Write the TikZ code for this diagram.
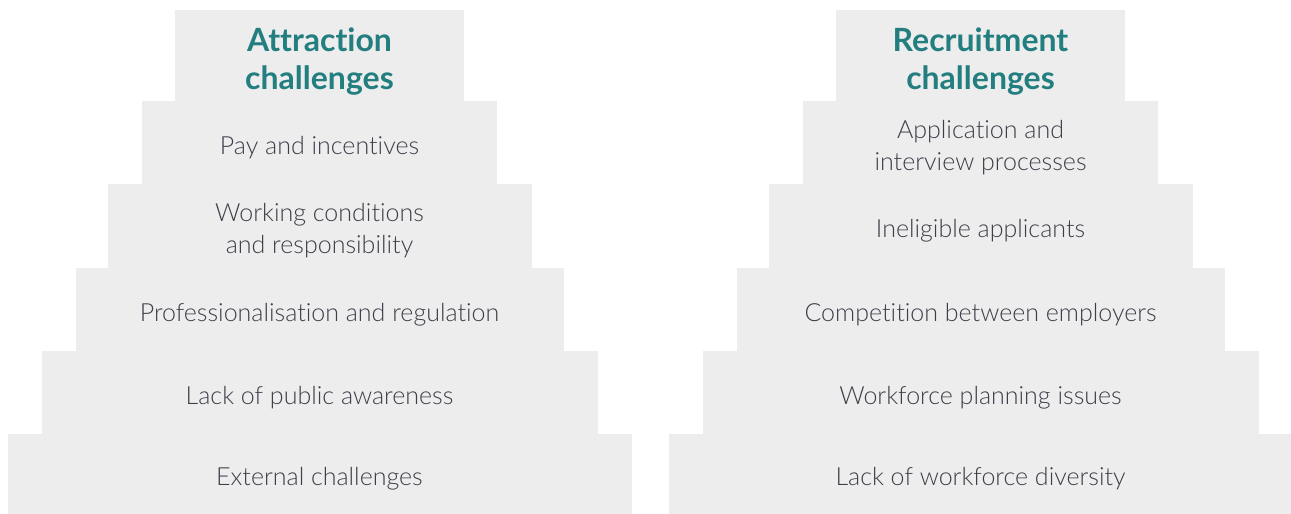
\documentclass[tikz,border=0pt]{standalone}
\usepackage{fontspec}
\setmainfont{Lato}[Ligatures=NoCommon]
\newfontfamily\thinfont{Lato Light}[Ligatures=NoCommon]
\definecolor{stepfill}{HTML}{EDEDED}
\definecolor{headteal}{HTML}{237E80}
\definecolor{bodyink}{HTML}{3E3E4A}
\begin{document}
\begin{tikzpicture}[x=1pt,y=-1pt,
  tier/.style={fill=stepfill, draw=none, inner sep=0pt, outer sep=0pt},
  tiertext/.style={inner sep=0pt, align=center, text=bodyink,
    font=\thinfont\fontsize{25}{32}\selectfont, yshift=-5pt},
  headtext/.style={inner sep=0pt, align=center, text=headteal,
    font=\bfseries\fontsize{32}{38}\selectfont, yshift=-6pt}]
\useasboundingbox (0,0) rectangle (1291,514);
% left pyramid: attraction
\node[tier, minimum width=289, minimum height=91] (l0) at (319.5,55.5) {};
\node[tier, minimum width=355, minimum height=83] (l1) at (319.5,142.5) {};
\node[tier, minimum width=424, minimum height=84] (l2) at (319.5,226) {};
\node[tier, minimum width=488, minimum height=83] (l3) at (319.5,309.5) {};
\node[tier, minimum width=556, minimum height=83] (l4) at (319.5,392.5) {};
\node[tier, minimum width=624, minimum height=80] (l5) at (319.5,474) {};
\node[headtext] (l0t) at (l0.center) {Attraction\\challenges};
\node[tiertext] (l1t) at (l1.center) {Pay and incentives};
\node[tiertext] (l2t) at (l2.center) {Working conditions\\and responsibility};
\node[tiertext] (l3t) at (l3.center) {Professionalisation and regulation};
\node[tiertext] (l4t) at (l4.center) {Lack of public awareness};
\node[tiertext] (l5t) at (l5.center) {External challenges};
% right pyramid: recruitment
\node[tier, minimum width=289, minimum height=91] (r0) at (980.5,55.5) {};
\node[tier, minimum width=355, minimum height=83] (r1) at (980.5,142.5) {};
\node[tier, minimum width=424, minimum height=84] (r2) at (980.5,226) {};
\node[tier, minimum width=488, minimum height=83] (r3) at (980.5,309.5) {};
\node[tier, minimum width=556, minimum height=83] (r4) at (980.5,392.5) {};
\node[tier, minimum width=624, minimum height=80] (r5) at (980.5,474) {};
\node[headtext] (r0t) at (r0.center) {Recruitment\\challenges};
\node[tiertext] (r1t) at (r1.center) {Application and\\interview processes};
\node[tiertext] (r2t) at (r2.center) {Ineligible applicants};
\node[tiertext] (r3t) at (r3.center) {Competition between employers};
\node[tiertext] (r4t) at (r4.center) {Workforce planning issues};
\node[tiertext] (r5t) at (r5.center) {Lack of workforce diversity};
\end{tikzpicture}
\end{document}
